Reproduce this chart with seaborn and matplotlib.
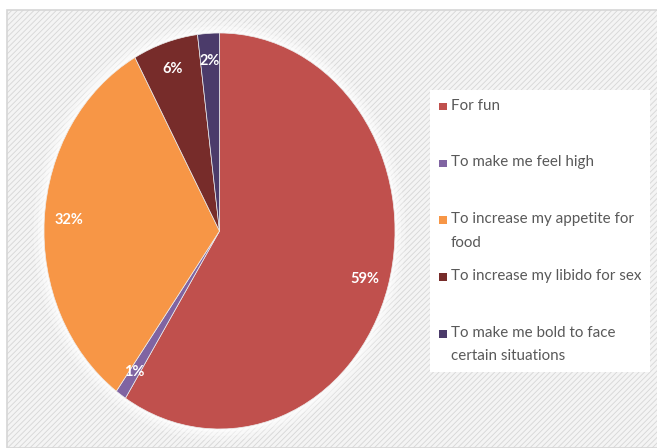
import matplotlib
matplotlib.use("Agg")
import matplotlib.pyplot as plt
import matplotlib.patches as mpatches
from matplotlib.patches import Ellipse
import seaborn as sns

# Reasons for use, share of respondents (%)
reasons = [
    "For fun",
    "To make me feel high",
    "To increase my appetite for\nfood",
    "To increase my libido for sex",
    "To make me bold to face\ncertain situations",
]
shares = [59, 1, 32, 6, 2]
colors = ["#C0504D", "#8064A2", "#F79646", "#772C2A", "#4B3B6A"]

sns.set_theme(style="white")
plt.rcParams["font.family"] = ["Lato", "DejaVu Sans"]
plt.rcParams["hatch.color"] = "#EDEDED"
plt.rcParams["hatch.linewidth"] = 0.6

W, H = 657, 448
fig = plt.figure(figsize=(W / 100, H / 100), dpi=100)
fig.patch.set_facecolor("white")

# chart area background with a faint diagonal texture
bg = mpatches.Rectangle((7 / W, 0), 1, 1 - 10 / H, transform=fig.transFigure,
                        facecolor="#F4F4F4", edgecolor="#D6D6D6", lw=1.2,
                        hatch="//////", zorder=-10)
fig.patches.append(bg)

# pie axes (slightly stretched vertically)
cx, cy, rx, ry = 219.5, 231, 175.5, 198
pad = 1.08
ax = fig.add_axes([(cx - rx * pad) / W, (H - cy - ry * pad) / H,
                   2 * rx * pad / W, 2 * ry * pad / H])
ax.set_zorder(5)
ax.set_facecolor("none")

# soft light halo around the pie
for k, a in [(1.06, 0.25), (1.035, 0.35), (1.015, 0.5)]:
    ax.add_patch(Ellipse((0, 0), 2 * k, 2 * k, facecolor="white", alpha=a,
                         edgecolor="none", zorder=0))

total = sum(shares)
wedges, texts, autotexts = ax.pie(
    shares, colors=colors, startangle=90, counterclock=False,
    autopct=lambda p: f"{round(p * total / 100):d}%", pctdistance=0.86,
    wedgeprops=dict(linewidth=0.5, edgecolor="#EDEDED"),
    textprops=dict(color="white", fontsize=10.5, fontweight="bold"),
)
ax.set_aspect("auto")
ax.set_xlim(-pad, pad)
ax.set_ylim(-pad, pad)
ax.axis("off")

# legend panel
lx0, ly0, lx1, ly1 = 430, 90, 650, 372
fig.patches.append(mpatches.Rectangle((lx0 / W, 1 - ly1 / H), (lx1 - lx0) / W,
                                      (ly1 - ly0) / H, transform=fig.transFigure,
                                      facecolor="white", edgecolor="none",
                                      zorder=1))
slot0, step = 107, 56.75
for i, (lab, col) in enumerate(zip(reasons, colors)):
    y = slot0 + i * step
    fig.patches.append(mpatches.Rectangle((439 / W, 1 - (y + 3.5) / H), 7.5 / W,
                                          7.5 / H, transform=fig.transFigure,
                                          facecolor=col, edgecolor="none",
                                          zorder=2))
    fig.text(451 / W, 1 - (y - 8.5) / H, lab, ha="left", va="top",
             color="#595959", fontsize=10.9, linespacing=1.88, zorder=3)

fig.savefig("out.png", dpi=100)
